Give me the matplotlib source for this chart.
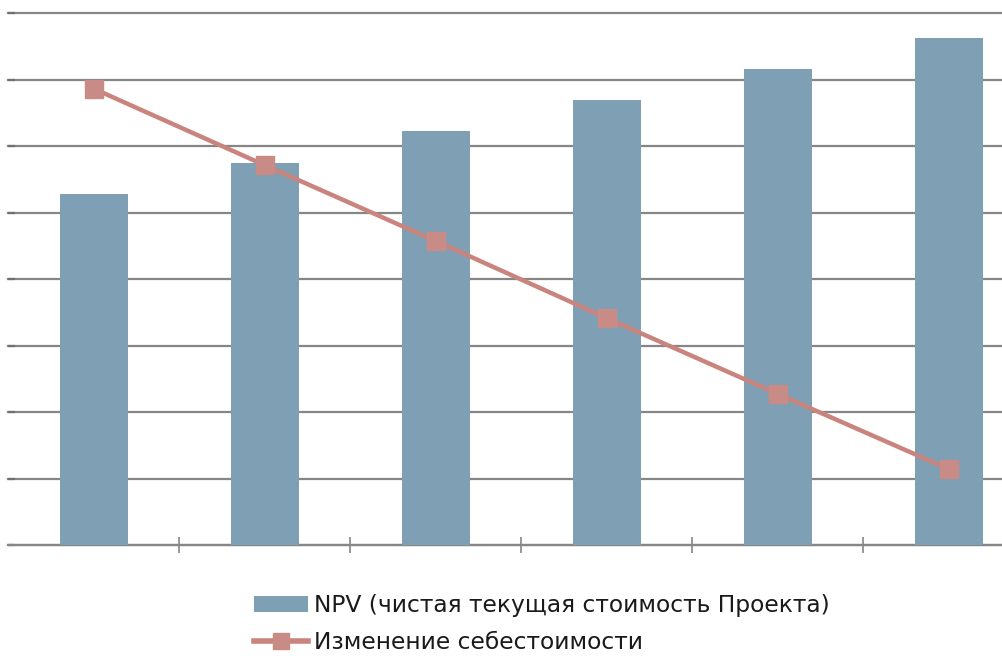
import matplotlib
matplotlib.use("Agg")
import matplotlib.pyplot as plt
import numpy as np

# Sensitivity scenarios (six steps) with project NPV and cost change
scenarios = ["1", "2", "3", "4", "5", "6"]
npv_values = [5.28, 5.74, 6.23, 6.69, 7.16, 7.62]
cost_change = [6.86, 5.71, 4.57, 3.41, 2.27, 1.14]

npv_label = "NPV (чистая текущая стоимость Проекта)"
cost_label = "Изменение себестоимости"

bar_color = "#7F9FB4"
line_color = "#C9847D"
marker_color = "#C98B85"
grid_color = "#868686"

W, H = 1003, 656
fig = plt.figure(figsize=(W / 100, H / 100), dpi=100)

# axes spans beyond the right edge so the last category is partly cut off
x0, x1 = 8.5, 1034.5
y_top, y_bot = 13, 545
ax = fig.add_axes([x0 / W, 1 - y_bot / H, (x1 - x0) / W, (y_bot - y_top) / H])

x = np.arange(len(scenarios))
bars = ax.bar(x, npv_values, width=0.4, color=bar_color, zorder=2, label=npv_label)
line, = ax.plot(x, cost_change, color=line_color, lw=3.2, marker="s", ms=13,
                mfc=marker_color, mec=marker_color, zorder=3, label=cost_label)

ax.set_xlim(-0.5, len(scenarios) - 0.5)
ax.set_ylim(0, 8)
ax.set_yticks(np.arange(0, 9, 1))
ax.set_xticks(np.arange(0.5, len(scenarios) - 0.5, 1))
ax.set_xticklabels([])
ax.set_yticklabels([])
ax.yaxis.grid(True, color=grid_color, lw=1.6, zorder=0)
ax.set_axisbelow(True)
for gl in ax.yaxis.get_gridlines():
    gl.set_clip_on(False)

for side in ["top", "right", "left"]:
    ax.spines[side].set_visible(False)
ax.spines["bottom"].set_color(grid_color)
ax.spines["bottom"].set_linewidth(1.6)
ax.spines["bottom"].set_zorder(1)
ax.tick_params(axis="x", direction="inout", length=12, width=1.2, color=grid_color)
ax.tick_params(axis="y", direction="in", length=5, width=1.6, color="#707070")

leg = fig.legend([bars, line], [npv_label, cost_label],
                 loc="upper left", bbox_to_anchor=(254 / W, 1 - 594 / H),
                 frameon=False, fontsize=16.8, handlelength=2.3, handleheight=0.7,
                 handletextpad=0.25, labelspacing=0.62, borderpad=0,
                 borderaxespad=0, markerscale=0.9)
for t in leg.get_texts():
    t.set_color("#1a1a1a")
leg.get_lines()[0].set_linewidth(4.0)

fig.savefig("out.png", dpi=100)
